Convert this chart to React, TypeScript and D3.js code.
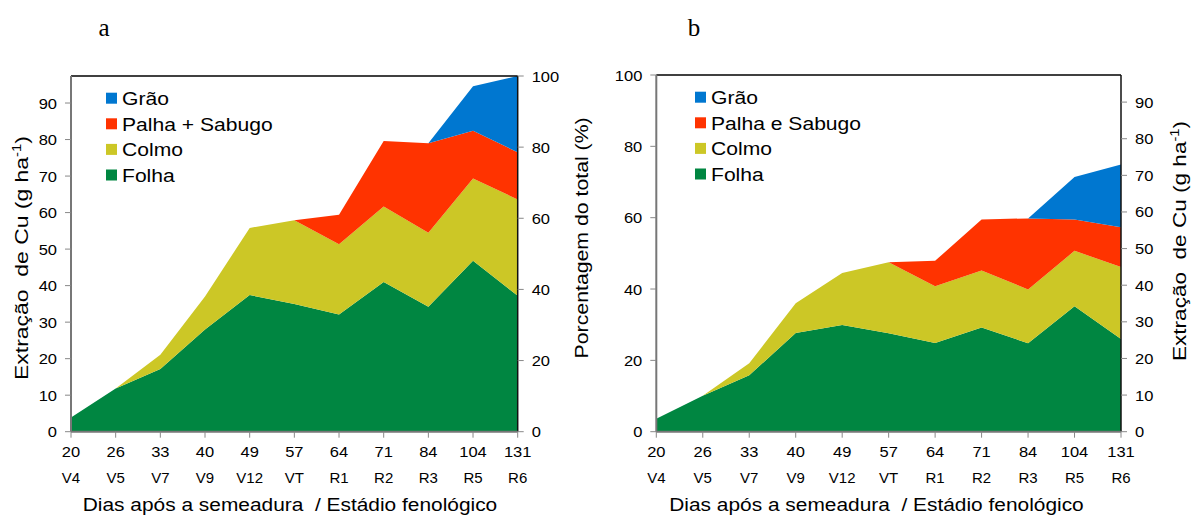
import React, { useRef, useEffect } from "react";
import * as d3 from "d3";

// x categories
const days = ["20", "26", "33", "40", "49", "57", "64", "71", "84", "104", "131"];
const stages = ["V4", "V5", "V7", "V9", "V12", "VT", "R1", "R2", "R3", "R5", "R6"];

const keys = ["folha", "colmo", "palha", "grao"];
const colors = ["#008641", "#ccc726", "#ff3300", "#0077d0"];
const legendA = ["Grão", "Palha + Sabugo", "Colmo", "Folha"];
const legendB = ["Grão", "Palha e Sabugo", "Colmo", "Folha"];

// panel a - extração de Cu (g/ha)
const folhaA = [3.9, 11.8, 17.2, 28.0, 37.4, 35.0, 32.1, 41.0, 34.2, 46.8, 37.2];
const colmoA = [0, 0, 3.9, 9.0, 18.4, 22.9, 19.2, 20.7, 20.3, 22.5, 26.4];
const palhaA = [0, 0, 0, 0, 0, 0, 8.1, 17.9, 24.5, 13.1, 12.9];
const graoA = [0, 0, 0, 0, 0, 0, 0, 0, 0, 12.2, 20.9];

// panel b - porcentagem
const folhaB = [3.6, 10.1, 15.8, 27.7, 29.9, 27.6, 24.9, 29.2, 24.8, 35.2, 26.0];
const colmoB = [0, 0, 3.4, 8.3, 14.6, 19.9, 15.9, 16.0, 15.1, 15.5, 20.2];
const palhaB = [0, 0, 0, 0, 0, 0, 7.1, 14.3, 19.9, 8.8, 11.1];
const graoB = [0, 0, 0, 0, 0, 0, 0, 0, 0, 11.9, 17.6];

const gTicks = [0, 10, 20, 30, 40, 50, 60, 70, 80, 90];
const pctTicks = [0, 20, 40, 60, 80, 100];

const FONT = "'Liberation Sans', Arial, sans-serif";
const SX = 1.1; // the original text is a bit wide

const rows = (f: number[], c: number[], p: number[], g: number[]) =>
    days.map((d, i) => ({ day: d, folha: f[i], colmo: c[i], palha: p[i], grao: g[i] }));

const totalA = folhaA[10] + colmoA[10] + palhaA[10] + graoA[10];

function label(g, x, y, txt, size, anchor = "start", sx = SX) {
    return g
        .append("text")
        .attr("transform", `translate(${x},${y}) scale(${sx},1)`)
        .attr("text-anchor", anchor)
        .style("font-family", FONT)
        .style("font-size", `${size}px`)
        .style("fill", "#000")
        .text(txt);
}

function cuTitle(g, x, y, sx) {
    const t = g
        .append("text")
        .attr("transform", `translate(${x},${y}) rotate(-90) scale(${sx},1)`)
        .attr("text-anchor", "middle")
        .style("font-family", FONT)
        .style("font-size", "18.5px")
        .style("white-space", "pre");
    t.append("tspan").text("Extração  de Cu (g ha");
    t.append("tspan").attr("baseline-shift", "super").style("font-size", "12px").text("-1");
    t.append("tspan").text(")");
}

function drawPanel(svg, cfg) {
    const { x0, x1, top, bottom, data, leftScale, rightScale, leftTicks, rightTicks, legend, legendX } = cfg;
    const g = svg.append("g");

    const x = d3.scalePoint().domain(days).range([x0, x1]);
    const yData = cfg.dataScale;

    const stack = d3.stack().keys(keys);
    const series = stack(data);

    series.forEach((s, k) => {
        const vals = data.map((d) => d[keys[k]]);
        const first = vals.findIndex((v) => v > 0);
        const start = k === 0 ? 0 : Math.max(0, first - 1);
        const area = d3
            .area()
            .defined((d, i) => i >= start)
            .x((d, i) => x(days[i]))
            .y0((d) => yData(d[0]))
            .y1((d) => yData(d[1]));
        g.append("path").attr("d", area(s)).attr("fill", colors[k]).attr("stroke", "none");
    });

    // frame lines
    g.append("line").attr("x1", x0).attr("x2", x1).attr("y1", top).attr("y2", top)
        .attr("stroke", "#000").attr("stroke-width", 1.5);
    g.append("line").attr("x1", x1).attr("x2", x1).attr("y1", top).attr("y2", bottom)
        .attr("stroke", "#111").attr("stroke-width", 1.5);
    g.append("line").attr("x1", x0).attr("x2", x0).attr("y1", top).attr("y2", bottom)
        .attr("stroke", "#777").attr("stroke-width", 2);
    g.append("line").attr("x1", x0).attr("x2", x1).attr("y1", bottom).attr("y2", bottom)
        .attr("stroke", "#777").attr("stroke-width", 2);

    // left ticks
    leftTicks.forEach((t) => {
        const y = leftScale(t);
        g.append("line").attr("x1", x0 - 6).attr("x2", x0).attr("y1", y).attr("y2", y)
            .attr("stroke", "#888").attr("stroke-width", 1);
        label(g, x0 - 14, y + 5.5, t, 15, "end");
    });
    // right ticks
    rightTicks.forEach((t) => {
        const y = rightScale(t);
        g.append("line").attr("x1", x1).attr("x2", x1 + 6).attr("y1", y).attr("y2", y)
            .attr("stroke", "#888").attr("stroke-width", 1);
        label(g, x1 + 14, y + 5.5, t, 15, "start");
    });
    // bottom ticks + labels
    days.forEach((d, i) => {
        const xx = x(d);
        g.append("line").attr("x1", xx).attr("x2", xx).attr("y1", bottom).attr("y2", bottom + 6)
            .attr("stroke", "#888").attr("stroke-width", 1);
        label(g, xx, bottom + 25, d, 15, "middle");
        label(g, xx, bottom + 51.5, stages[i], 15, "middle", 1.0);
    });

    label(g, cfg.titleX, 511, "Dias após a semeadura  / Estádio fenológico", 18.5, "middle", 1.13)
        .style("white-space", "pre");

    // legend
    legend.forEach((name, i) => {
        const cy = cfg.legendY + i * 25.6;
        g.append("rect").attr("x", legendX).attr("y", cy - 5.5).attr("width", 11).attr("height", 11)
            .attr("fill", colors[3 - i]);
        label(g, legendX + 16, cy + 7, name, 18.5, "start", 1.14);
    });

    label(g, cfg.letterX, 36, cfg.letter, 25, "middle", 1)
        .style("font-family", "'Liberation Serif', 'Times New Roman', serif");

    return g;
}

const App = () => {
    const svgRef = useRef(null);

    useEffect(() => {
        const svg = d3.select(svgRef.current);
        svg.selectAll("*").remove();

        // panel a
        const aTop = 76, aBottom = 431.7;
        const aLeft = d3.scaleLinear().domain([0, totalA]).range([aBottom, aTop]);
        const aRight = d3.scaleLinear().domain([0, 100]).range([aBottom, aTop]);
        const ga = drawPanel(svg, {
            x0: 71, x1: 517.7, top: aTop, bottom: aBottom,
            data: rows(folhaA, colmoA, palhaA, graoA),
            dataScale: aLeft, leftScale: aLeft, rightScale: aRight,
            leftTicks: gTicks, rightTicks: pctTicks,
            legend: legendA, legendX: 106, legendY: 98.2,
            letter: "a", letterX: 104, titleX: 290,
        });
        cuTitle(ga, 27.5, 258, 1.24);
        ga.append("text")
            .attr("transform", `translate(587.5,${(aTop + aBottom) / 2 - 16}) rotate(-90) scale(1.15,1)`)
            .attr("text-anchor", "middle")
            .style("font-family", FONT)
            .style("font-size", "18.5px")
            .text("Porcentagem do total (%)");

        // panel b
        const bTop = 75, bBottom = 431.7;
        const bLeft = d3.scaleLinear().domain([0, 100]).range([bBottom, bTop]);
        const bRight = d3.scaleLinear().domain([0, totalA]).range([bBottom, bTop]);
        const gb = drawPanel(svg, {
            x0: 656.3, x1: 1121, top: bTop, bottom: bBottom,
            data: rows(folhaB, colmoB, palhaB, graoB),
            dataScale: bLeft, leftScale: bLeft, rightScale: bRight,
            leftTicks: pctTicks, rightTicks: gTicks,
            legend: legendB, legendX: 695, legendY: 97.2,
            letter: "b", letterX: 694, titleX: 876.5,
        });
        cuTitle(gb, 1185.5, 241, 1.22);
    }, []);

    return (
        <svg
            ref={svgRef}
            width={1192}
            height={518}
            style={{ position: "absolute", left: 0, top: 0, background: "#fff" }}
        />
    );
};

export default App;
